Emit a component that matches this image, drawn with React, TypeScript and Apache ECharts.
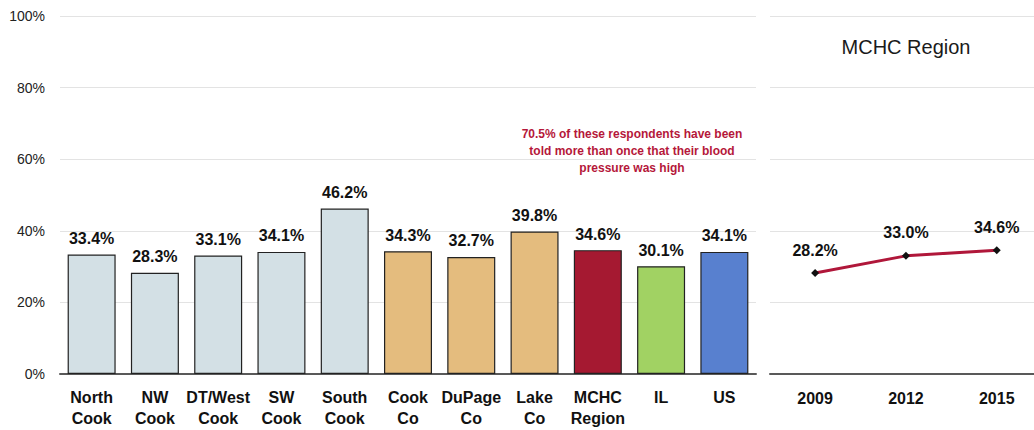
import React, { useEffect, useRef } from "react";
import * as echarts from "echarts";

const categories = ["North\nCook", "NW\nCook", "DT/West\nCook", "SW\nCook", "South\nCook", "Cook\nCo", "DuPage\nCo", "Lake\nCo", "MCHC\nRegion", "IL", "US"];
const values = [33.4, 28.3, 33.1, 34.1, 46.2, 34.3, 32.7, 39.8, 34.6, 30.1, 34.1];
const barColors = ["#d3e0e5", "#d3e0e5", "#d3e0e5", "#d3e0e5", "#d3e0e5", "#e4bc7e", "#e4bc7e", "#e4bc7e", "#a51931", "#a1d263", "#5880cf"];
const years = [2009, 2012, 2015];
const trend = [28.2, 33.0, 34.6];
const note = "70.5% of these respondents have been\ntold more than once that their blood\npressure was high";
const panelTitle = "MCHC Region";

const FONT = "'Liberation Sans', Arial, sans-serif";

export default function App() {
  const ref = useRef<HTMLDivElement>(null);
  useEffect(() => {
    const chart = echarts.init(ref.current!, null, { renderer: "svg" });
    const yBase = {
      type: "value",
      min: 0,
      max: 100,
      interval: 20,
      axisLine: { show: false },
      axisTick: { show: false },
      splitLine: { lineStyle: { color: "#e3e3e3", width: 1 } },
    };
    const labelStyle = { fontFamily: FONT, fontSize: 16, fontWeight: "bold", color: "#111" };
    chart.setOption({
      animation: false,
      textStyle: { fontFamily: FONT },
      grid: [
        { left: 60, right: 278, top: 16, bottom: 56 },
        { left: 770, right: 0, top: 16, bottom: 56 },
      ],
      xAxis: [
        {
          type: "category",
          gridIndex: 0,
          data: categories,
          axisLine: { lineStyle: { color: "#595959", width: 2 } },
          axisTick: { show: false },
          axisLabel: { interval: 0, ...labelStyle, lineHeight: 21, margin: 13 },
        },
        {
          type: "value",
          gridIndex: 1,
          min: 2007.51,
          max: 2016.23,
          axisLine: { lineStyle: { color: "#595959", width: 2 } },
          axisTick: { show: false },
          splitLine: { show: false },
          axisLabel: { customValues: years, formatter: (v: number) => String(v), ...labelStyle, margin: 16 },
        },
      ],
      yAxis: [
        {
          ...yBase,
          gridIndex: 0,
          axisLabel: { formatter: "{value}%", fontFamily: FONT, fontSize: 14, color: "#222", margin: 15 },
        },
        { ...yBase, gridIndex: 1, axisLabel: { show: false } },
      ],
      series: [
        {
          type: "bar",
          xAxisIndex: 0,
          yAxisIndex: 0,
          barWidth: 48,
          data: values.map((v, i) => ({ value: v, itemStyle: { color: barColors[i] } })),
          itemStyle: { borderColor: "#222", borderWidth: 1.2 },
          label: {
            show: true,
            position: "top",
            distance: 8,
            formatter: (p: any) => p.value.toFixed(1) + "%",
            ...labelStyle,
          },
        },
        {
          type: "line",
          xAxisIndex: 1,
          yAxisIndex: 1,
          data: years.map((y, i) => [y, trend[i]]),
          lineStyle: { color: "#b0173a", width: 3 },
          itemStyle: { color: "#111" },
          symbol: "diamond",
          symbolSize: 8,
          label: {
            show: true,
            position: "top",
            distance: 11,
            formatter: (p: any) => p.value[1].toFixed(1) + "%",
            ...labelStyle,
          },
        },
      ],
      graphic: [
        {
          type: "text",
          x: 906,
          y: 47,
          style: {
            text: panelTitle,
            textAlign: "center",
            textVerticalAlign: "middle",
            font: "20px " + FONT,
            fill: "#1a1a1a",
          },
        },
        {
          type: "text",
          x: 632,
          y: 125,
          style: {
            text: note,
            textAlign: "center",
            font: "bold 12px " + FONT,
            fill: "#b5173a",
            lineHeight: 17,
          },
        },
      ],
    });
    return () => chart.dispose();
  }, []);
  return <div ref={ref} style={{ width: 1034, height: 430, position: "absolute", left: 0, top: 0 }} />;
}
